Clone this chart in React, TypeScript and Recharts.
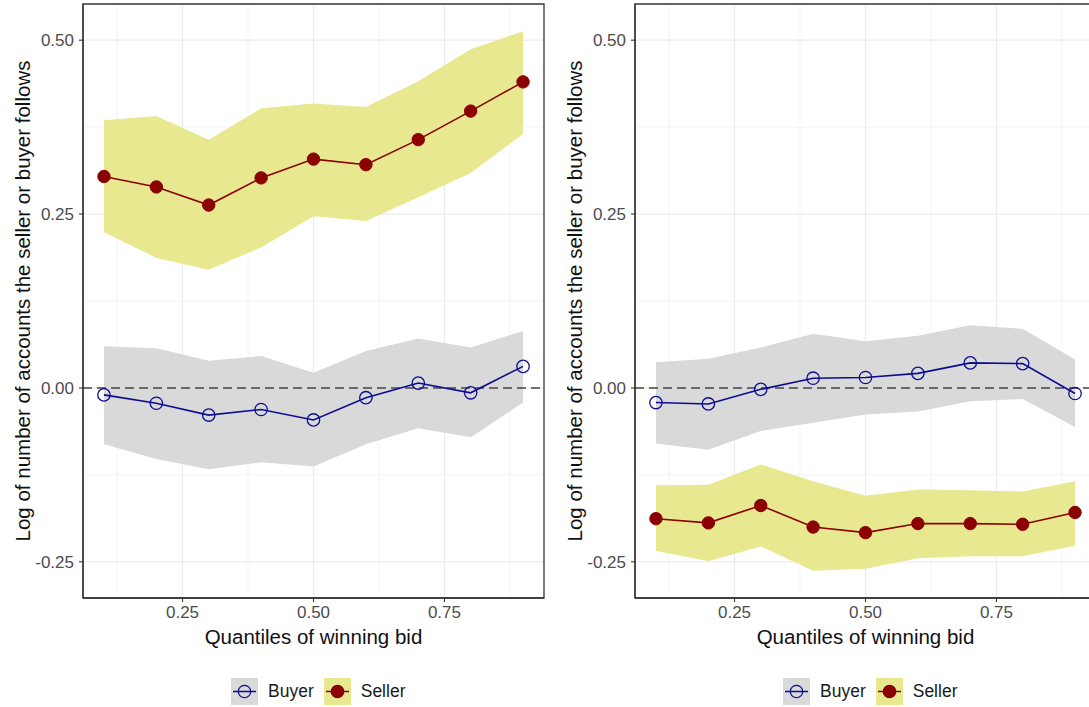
import React from 'react';
import {
  ComposedChart, Area, Line, XAxis, YAxis,
  CartesianGrid, ReferenceLine, ReferenceArea
} from 'recharts';

const quantiles = [0.1, 0.2, 0.3, 0.4, 0.5, 0.6, 0.7, 0.8, 0.9];

// left panel
const leftBuyer = [-0.010, -0.022, -0.039, -0.031, -0.046, -0.014, 0.007, -0.007, 0.031];
const leftBuyerLow = [-0.081, -0.102, -0.117, -0.107, -0.113, -0.081, -0.058, -0.071, -0.021];
const leftBuyerHigh = [0.060, 0.057, 0.039, 0.046, 0.022, 0.053, 0.071, 0.058, 0.082];
const leftSeller = [0.304, 0.289, 0.263, 0.302, 0.329, 0.321, 0.357, 0.398, 0.440];
const leftSellerLow = [0.224, 0.187, 0.170, 0.202, 0.247, 0.240, 0.274, 0.309, 0.365];
const leftSellerHigh = [0.385, 0.391, 0.357, 0.402, 0.409, 0.404, 0.441, 0.487, 0.513];

// right panel
const rightBuyer = [-0.021, -0.023, -0.002, 0.014, 0.015, 0.021, 0.036, 0.035, -0.008];
const rightBuyerLow = [-0.080, -0.089, -0.062, -0.050, -0.038, -0.034, -0.019, -0.016, -0.056];
const rightBuyerHigh = [0.037, 0.042, 0.058, 0.078, 0.067, 0.075, 0.090, 0.085, 0.041];
const rightSeller = [-0.188, -0.194, -0.169, -0.200, -0.208, -0.195, -0.195, -0.196, -0.179];
const rightSellerLow = [-0.234, -0.249, -0.228, -0.263, -0.260, -0.245, -0.242, -0.242, -0.227];
const rightSellerHigh = [-0.140, -0.139, -0.110, -0.134, -0.155, -0.146, -0.147, -0.149, -0.134];

const xTicks = [0.25, 0.5, 0.75];
const xMinor = [0.125, 0.375, 0.625, 0.875];
const yTicks = [-0.25, 0, 0.25, 0.5];
const yMinor = [-0.125, 0.125, 0.375];
const X_DOMAIN: [number, number] = [0.06, 0.94];
const Y_DOMAIN: [number, number] = [-0.302, 0.552];

const Y_TITLE = 'Log of number of accounts the seller or buyer follows';
const X_TITLE = 'Quantiles of winning bid';

const FONT = '"Liberation Sans", Arial, Helvetica, sans-serif';
const BLUE = '#0c0c92';
const RED = '#8b0000';
const GREY_BAND = '#d9d9d9';
const YELLOW_BAND = '#e8e891';

const buildRows = (buyer: number[], bLo: number[], bHi: number[], seller: number[], sLo: number[], sHi: number[]) =>
  quantiles.map((q, i) => ({
    q,
    buyer: buyer[i],
    buyerBand: [bLo[i], bHi[i]],
    seller: seller[i],
    sellerBand: [sLo[i], sHi[i]],
  }));

const YTitle = (props: any) => {
  const vb = props.viewBox || { x: 0, y: 4, width: 83, height: 594 };
  const cx = vb.x + 22;
  const cy = vb.y + vb.height / 2;
  return (
    <text x={cx} y={cy} transform={`rotate(-90, ${cx}, ${cy})`} textAnchor="middle"
      dominantBaseline="central" fontSize={20.5} fill="#111" fontFamily={FONT}>
      {Y_TITLE}
    </text>
  );
};

const XTitle = (props: any) => {
  const vb = props.viewBox || { x: 83, y: 598, width: 461, height: 62 };
  const cx = vb.x + vb.width / 2;
  const cy = vb.y + 38;
  return (
    <text x={cx} y={cy} textAnchor="middle" dominantBaseline="central"
      fontSize={20.5} fill="#111" fontFamily={FONT}>
      {X_TITLE}
    </text>
  );
};

const LegendKey = ({ band, color, filled }: { band: string; color: string; filled: boolean }) => (
  <svg width={27} height={27} style={{ display: 'block' }}>
    <rect x={0} y={0} width={27} height={27} fill={band} />
    <line x1={2} x2={25} y1={13.5} y2={13.5} stroke={color} strokeWidth={1.5} />
    <circle cx={13.5} cy={13.5} r={6.2} fill={filled ? color : 'none'} stroke={color} strokeWidth={1.3} />
  </svg>
);

const PanelLegend = ({ left }: { left: number }) => (
  <div style={{
    position: 'absolute', left, top: 678, display: 'flex', alignItems: 'center',
    fontFamily: FONT, fontSize: 17.5, color: '#1a1a1a',
  }}>
    <LegendKey band={GREY_BAND} color={BLUE} filled={false} />
    <span style={{ marginLeft: 10, marginRight: 10 }}>Buyer</span>
    <LegendKey band={YELLOW_BAND} color={RED} filled={true} />
    <span style={{ marginLeft: 10 }}>Seller</span>
  </div>
);

const Panel = ({ left, rows }: { left: number; rows: any[] }) => (
  <div style={{ position: 'absolute', left, top: 0 }}>
    <ComposedChart width={560} height={660} data={rows}
      margin={{ top: 4, right: 16, bottom: 0, left: 0 }}>
      <CartesianGrid stroke="#f3f3f3" strokeWidth={1} horizontalValues={yMinor} verticalValues={xMinor} />
      <CartesianGrid stroke="#ebebeb" strokeWidth={1.2} horizontalValues={yTicks} verticalValues={xTicks} />
      <XAxis
        dataKey="q" type="number" domain={X_DOMAIN} ticks={xTicks}
        allowDataOverflow height={62}
        tickFormatter={(v: number) => v.toFixed(2)}
        tick={{ fill: '#4d4d4d', fontSize: 17, fontFamily: FONT }}
        tickSize={4} tickMargin={4}
        axisLine={{ stroke: '#333', strokeWidth: 1.3 }}
        tickLine={{ stroke: '#333', strokeWidth: 1.1 }}
        label={{ content: XTitle }}
      />
      <YAxis
        type="number" domain={Y_DOMAIN} ticks={yTicks} allowDataOverflow width={83}
        tickFormatter={(v: number) => v.toFixed(2)}
        tick={{ fill: '#4d4d4d', fontSize: 17, fontFamily: FONT }}
        tickSize={4} tickMargin={5}
        axisLine={{ stroke: '#333', strokeWidth: 1.3 }}
        tickLine={{ stroke: '#333', strokeWidth: 1.1 }}
        label={{ content: YTitle }}
      />
      <Area dataKey="buyerBand" type="linear" stroke="none" fill={GREY_BAND} fillOpacity={1} isAnimationActive={false} />
      <Area dataKey="sellerBand" type="linear" stroke="none" fill={YELLOW_BAND} fillOpacity={1} isAnimationActive={false} />
      <ReferenceLine y={0} stroke="#444" strokeWidth={1.4} strokeDasharray="9 5" />
      <Line dataKey="buyer" type="linear" stroke={BLUE} strokeWidth={1.6}
        dot={{ r: 6.2, fill: 'none', stroke: BLUE, strokeWidth: 1.3 }}
        activeDot={false} isAnimationActive={false} />
      <Line dataKey="seller" type="linear" stroke={RED} strokeWidth={1.6}
        dot={{ r: 6.2, fill: RED, stroke: RED, strokeWidth: 1 }}
        activeDot={false} isAnimationActive={false} />
      <ReferenceArea x1={X_DOMAIN[0]} x2={X_DOMAIN[1]} y1={Y_DOMAIN[0]} y2={Y_DOMAIN[1]}
        fill="none" fillOpacity={0} stroke="#333" strokeWidth={1.3} />
    </ComposedChart>
  </div>
);

export default function App() {
  const leftRows = buildRows(leftBuyer, leftBuyerLow, leftBuyerHigh, leftSeller, leftSellerLow, leftSellerHigh);
  const rightRows = buildRows(rightBuyer, rightBuyerLow, rightBuyerHigh, rightSeller, rightSellerLow, rightSellerHigh);

  return (
    <div style={{
      position: 'fixed', left: 0, top: 0, width: 1089, height: 707,
      overflow: 'hidden', background: '#fff',
    }}>
      <Panel left={0} rows={leftRows} />
      <Panel left={552} rows={rightRows} />
      <PanelLegend left={231} />
      <PanelLegend left={783} />
    </div>
  );
}
